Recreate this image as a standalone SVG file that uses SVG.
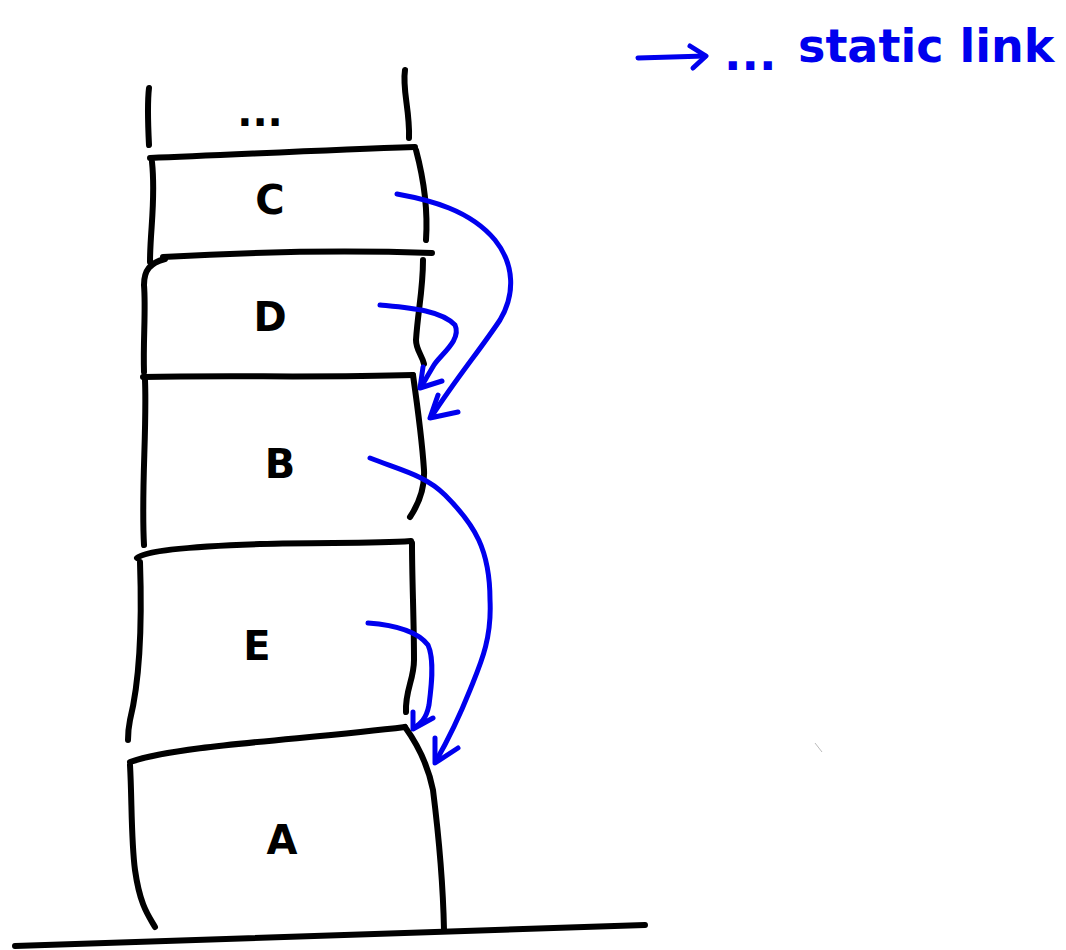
<svg xmlns="http://www.w3.org/2000/svg" width="1066" height="950" viewBox="0 0 1066 950">
<style>
.ink{fill:none;stroke:#000;stroke-width:6;stroke-linecap:round;stroke-linejoin:round}
.blue{fill:none;stroke:#0000ee;stroke-width:5;stroke-linecap:round;stroke-linejoin:round}
.lbl{font-family:"DejaVu Sans","Liberation Sans",sans-serif;font-size:40px;font-weight:bold;fill:#000;text-anchor:middle}
.leg{font-family:"DejaVu Sans","Liberation Sans",sans-serif;font-size:46px;font-weight:bold;fill:#0000ee}
</style>
<rect width="1066" height="950" fill="#fff"/>
<g id="legend">
<path class="blue" d="M638,58 L705,56"/>
<path class="blue" d="M690,46 L706,56 L693,68"/>
<text class="leg" x="724" y="70" font-size="20">...</text>
<text class="leg" x="798" y="62">static link</text>
</g>
<g id="frame-top">
<path class="ink" d="M149,88 C147,105 148,125 149,145"/>
<path class="ink" d="M405,70 C402,90 410,110 409,138"/>
<text class="lbl" x="260" y="126" font-size="26">...</text>
</g>
<g id="node-C">
<path class="ink" d="M150,158 C230,155 320,150 415,147"/>
<path class="ink" d="M152,162 C156,200 150,230 150,262"/>
<path class="ink" d="M416,150 C424,180 428,210 426,240"/>
<path class="ink" d="M163,257 C250,252 340,250 432,253"/>
<text class="lbl" x="270" y="214">C</text>
</g>
<g id="node-D">
<path class="ink" d="M165,259 C150,263 144,270 144,285 C146,310 143,340 144,372"/>
<path class="ink" d="M423,260 C423,290 418,310 416,340 C416,350 422,355 424,364"/>
<path class="ink" d="M143,377 C230,375 320,378 413,375"/>
<text class="lbl" x="270" y="331">D</text>
</g>
<g id="node-B">
<path class="ink" d="M413,375 C418,410 422,440 424,470 C425,490 418,505 410,517"/>
<path class="ink" d="M145,380 C147,430 141,490 144,545"/>
<text class="lbl" x="280" y="478">B</text>
</g>
<g id="node-E">
<path class="ink" d="M137,558 C145,550 200,546 260,544 C320,542 370,544 411,541"/>
<path class="ink" d="M412,543 C412,580 414,620 414,660 C414,680 405,690 406,712"/>
<path class="ink" d="M140,562 C142,620 140,680 130,720 C128,730 128,736 128,740"/>
<text class="lbl" x="257" y="660">E</text>
</g>
<g id="node-A">
<path class="ink" d="M130,762 C180,745 300,740 405,727"/>
<path class="ink" d="M405,727 C418,745 428,765 433,790 C438,830 443,880 444,930"/>
<path class="ink" d="M130,765 C132,800 131,840 135,870 C140,905 148,915 155,927"/>
<text class="lbl" x="282" y="854" font-size="44">A</text>
</g>
<g id="ground">
<path class="ink" d="M15,946 C200,938 420,932 645,925" stroke-width="7"/>
</g>
<path d="M815,743 L822,752" stroke="#bbb" stroke-width="1" fill="none"/>
<g id="connectors">
<path class="blue" d="M397,194 C430,200 470,210 495,240 C515,265 515,295 500,320 C480,350 455,380 432,416"/>
<path class="blue" d="M438,395 L430,418 L458,412"/>
<path class="blue" d="M380,305 C410,308 440,310 455,325 C462,340 440,355 434,365 C428,375 424,382 421,387"/>
<path class="blue" d="M423,367 L420,388 L442,381"/>
<path class="blue" d="M370,458 C400,470 425,475 445,495 C475,525 490,550 490,600 C492,640 480,665 470,690 C458,720 448,740 436,761"/>
<path class="blue" d="M435,738 L435,763 L458,748"/>
<path class="blue" d="M368,623 C395,625 418,632 428,645 C435,660 431,690 429,705 C426,720 420,724 414,728"/>
<path class="blue" d="M413,712 L413,729 L433,718"/>
</g>
</svg>
